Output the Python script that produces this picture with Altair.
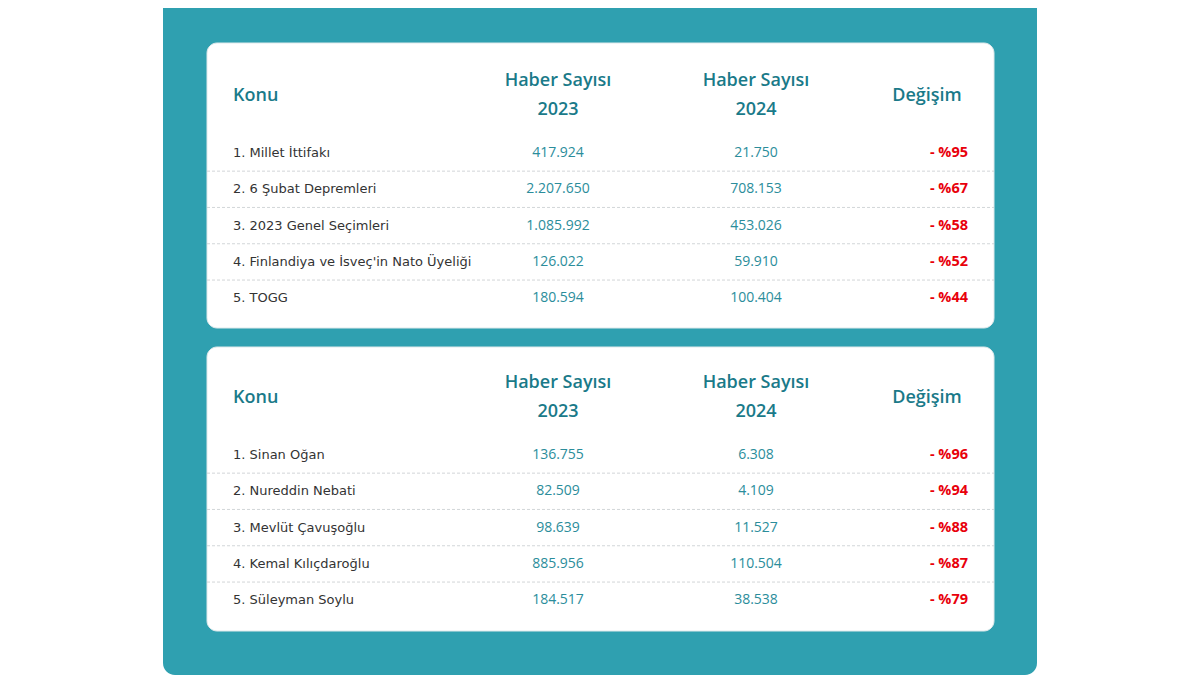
import altair as alt
import pandas as pd

# ---- data ----
konu_1 = ["1. Millet İttifakı", "2. 6 Şubat Depremleri", "3. 2023 Genel Seçimleri",
          "4. Finlandiya ve İsveç'in Nato Üyeliği", "5. TOGG"]
haber_2023_1 = [417924, 2207650, 1085992, 126022, 180594]
haber_2024_1 = [21750, 708153, 453026, 59910, 100404]
degisim_1 = [95, 67, 58, 52, 44]

konu_2 = ["1. Sinan Oğan", "2. Nureddin Nebati", "3. Mevlüt Çavuşoğlu",
          "4. Kemal Kılıçdaroğlu", "5. Süleyman Soylu"]
haber_2023_2 = [136755, 82509, 98639, 885956, 184517]
haber_2024_2 = [6308, 4109, 11527, 110504, 38538]
degisim_2 = [96, 94, 88, 87, 79]

header_konu = "Konu"
header_haber = "Haber Sayısı"
header_years = ["2023", "2024"]
header_degisim = "Değişim"

# ---- layout (page pixel coordinates) ----
OFF = 8
W, H = 1184, 667
card_tops = [43, 347]
card_bottoms = [328, 631]
row_first = [153, 455]
row_step = 36.3
head_mid = [96, 398]
X_KONU, X_2023, X_2024, X_DEG_HEAD, X_DEG = 233, 558, 756, 927, 968
CARD_X1, CARD_X2 = 207, 994

def fmt(v):
    return f"{v:,}".replace(",", ".")

rows = []
seps = []
heads = []
tables = [(konu_1, haber_2023_1, haber_2024_1, degisim_1),
          (konu_2, haber_2023_2, haber_2024_2, degisim_2)]
for t, (k, a, b, d) in enumerate(tables):
    for i in range(len(k)):
        rows.append({"y": row_first[t] + i * row_step, "konu": k[i],
                     "a": fmt(a[i]), "b": fmt(b[i]), "d": f"- %{d[i]}"})
        if i < len(k) - 1:
            seps.append({"y": row_first[t] + (i + 0.5) * row_step})
    hm = head_mid[t]
    heads.append({"x": X_KONU, "y": hm, "txt": header_konu, "al": "left"})
    heads.append({"x": X_2023, "y": hm - 15, "txt": header_haber, "al": "center"})
    heads.append({"x": X_2023, "y": hm + 14, "txt": header_years[0], "al": "center"})
    heads.append({"x": X_2024, "y": hm - 15, "txt": header_haber, "al": "center"})
    heads.append({"x": X_2024, "y": hm + 14, "txt": header_years[1], "al": "center"})
    heads.append({"x": X_DEG_HEAD, "y": hm, "txt": header_degisim, "al": "center"})

rows_df = pd.DataFrame(rows)
seps_df = pd.DataFrame(seps)
heads_df = pd.DataFrame(heads)
cards_df = pd.DataFrame({"y": card_tops, "y2": card_bottoms})

xs = alt.Scale(domain=[OFF, OFF + W], range=[0, W])
ys = alt.Scale(domain=[OFF, OFF + H], range=[0, H])

FONT = "Open Sans"
TEAL_HEAD = "#1a7a89"
TEAL_NUM = "#2b8d9b"

bg = alt.Chart(pd.DataFrame({"k": [0]})).mark_rect(
    color="#2fa0b0", cornerRadius=12
).encode(x=alt.value(163 - OFF), x2=alt.value(1037 - OFF),
         y=alt.value(-14), y2=alt.value(H))

cards = alt.Chart(cards_df).mark_rect(
    color="white", cornerRadius=10, stroke="#dfe9eb", strokeWidth=1
).encode(x=alt.value(CARD_X1 - OFF), x2=alt.value(CARD_X2 - OFF),
         y=alt.Y("y:Q", scale=ys, axis=None), y2="y2:Q")

sep = alt.Chart(seps_df).mark_rule(
    color="#d2d6d8", strokeDash=[3, 2], strokeWidth=1
).encode(x=alt.value(CARD_X1 - OFF), x2=alt.value(CARD_X2 - OFF),
         y=alt.Y("y:Q", scale=ys, axis=None))

def head_layer(al):
    return alt.Chart(heads_df).transform_filter(alt.datum.al == al).mark_text(
        font=FONT, fontSize=18, fontWeight=600, color=TEAL_HEAD, align=al, baseline="middle"
    ).encode(x=alt.X("x:Q", scale=xs, axis=None), y=alt.Y("y:Q", scale=ys, axis=None),
             text="txt:N")

base = alt.Chart(rows_df)
t_konu = base.mark_text(font="DejaVu Sans", fontSize=13, color="#333333", align="left",
                        baseline="middle").encode(
    x=alt.value(X_KONU - OFF), y=alt.Y("y:Q", scale=ys, axis=None), text="konu:N")
t_a = base.mark_text(font=FONT, fontSize=14, color=TEAL_NUM, align="center",
                     baseline="middle").encode(
    x=alt.value(X_2023 - OFF), y=alt.Y("y:Q", scale=ys, axis=None), text="a:N")
t_b = base.mark_text(font=FONT, fontSize=14, color=TEAL_NUM, align="center",
                     baseline="middle").encode(
    x=alt.value(X_2024 - OFF), y=alt.Y("y:Q", scale=ys, axis=None), text="b:N")
t_d = base.mark_text(font=FONT, fontSize=14.5, fontWeight="bold", color="#e8000b",
                     align="right", baseline="middle").encode(
    x=alt.value(X_DEG - OFF), y=alt.Y("y:Q", scale=ys, axis=None), text="d:N")

chart = alt.layer(bg, cards, sep, head_layer("left"), head_layer("center"),
                  t_konu, t_a, t_b, t_d).properties(
    width=W, height=H, padding=0, autosize=alt.AutoSizeParams(type="none")
).configure_view(stroke=None, clip=False)

chart.save("out.html", embed_options={"renderer": "svg", "actions": False})
